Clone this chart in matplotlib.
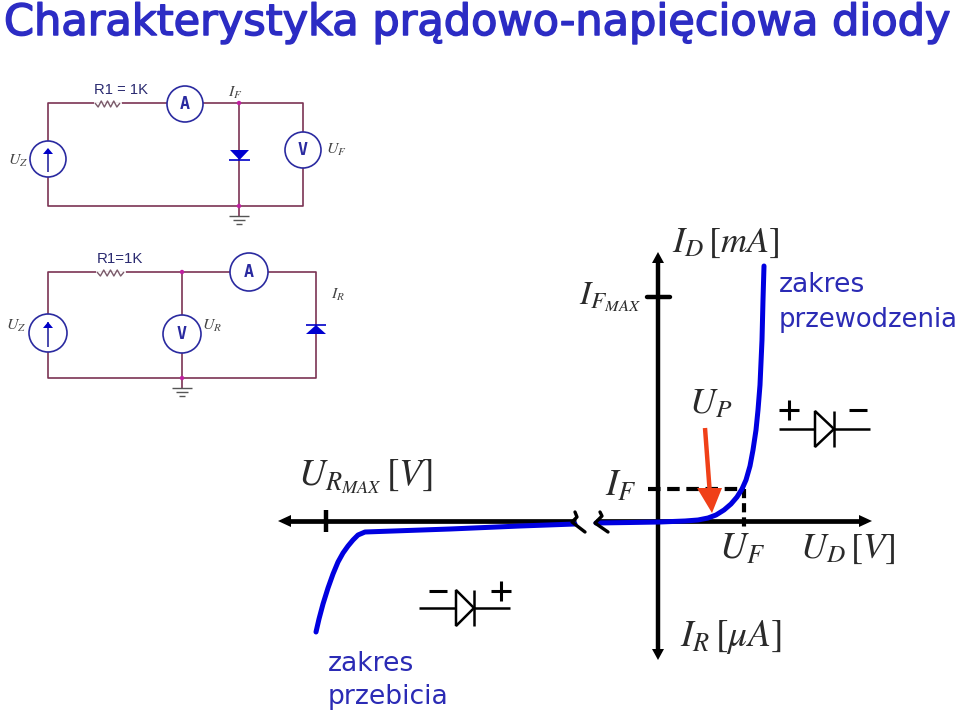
import matplotlib
matplotlib.use("Agg")
import matplotlib.pyplot as plt
import matplotlib.patheffects as pe
from matplotlib.patches import Circle, Polygon

plt.rcParams['mathtext.fontset'] = 'stix'

# curve, in image pixels
forward_x = [596, 630, 660, 685, 698, 708, 716, 724, 731, 737, 742, 746, 750, 753, 756, 758, 760, 762, 763, 764]
forward_y = [523, 522.5, 522, 521, 520, 518, 515, 510, 504, 497, 489, 480, 466, 450, 430, 410, 385, 340, 300, 266]
reverse_x = [316, 319, 323, 328, 333, 338, 343, 348, 353, 358, 365, 450, 520, 575]
reverse_y = [632, 619, 604, 588, 574, 562, 553, 546, 540, 535, 532, 529, 526, 524]
dash_x = [648, 745]
dash_y = [489, 489]

BLUE = '#0000e0'
WIRE = '#7c3454'
RING = '#2a2aa0'
LABEL = '#2b2bb5'
TITLE = '#2c2cc4'
MATH = '#2a2a2a'

fig = plt.figure(figsize=(9.6, 7.15), dpi=100)
ax = fig.add_axes([0, 0, 1, 1])
ax.set_xlim(0, 960)
ax.set_ylim(715, 0)
ax.axis('off')


def line(xs, ys, c='black', lw=1.0, **kw):
    ax.plot(xs, ys, color=c, lw=lw, solid_capstyle=kw.pop('cap', 'butt'), **kw)


def meter(x, y, r, name=None):
    ax.add_patch(Circle((x, y), r, fc='white', ec=RING, lw=1.2, zorder=3))
    if name:
        ax.text(x, y, name, family='DejaVu Sans Mono', weight='bold', fontsize=12,
                color=RING, ha='center', va='center', zorder=4)


def source(x, y, r):
    meter(x, y, r)
    line([x, x], [y + r - 5, y - r + 8], c=RING, lw=1.2, zorder=4)
    ax.add_patch(Polygon([[x - 5, y - 5], [x + 5, y - 5], [x, y - 11]], fc='#0000c8', ec='none', zorder=4))


def resistor(x0, x1, y, n=4):
    step = (x1 - x0) / (2 * n)
    xs = [x0 + i * step for i in range(2 * n + 1)]
    ys = [y] + [y + (4 if i % 2 else -2) for i in range(1, 2 * n)] + [y]
    line(xs, ys, c='#7a5a6a', lw=1.0, zorder=3)


def ground(x, y):
    line([x, x], [y, y + 10], c=WIRE, lw=1.2)
    for w, dy in [(10, 10), (6, 14), (3, 18)]:
        line([x - w, x + w], [y + dy, y + dy], c='#555555', lw=1)


def node(x, y):
    ax.add_patch(Circle((x, y), 2.2, fc='#c020a0', ec='none', zorder=3))


def small_label(x, y, main, sub):
    ax.text(x, y, f'$\\mathit{{{main}}}_{{{sub}}}$', fontsize=11.5, color='#444444', ha='center', va='center')


def big_label(x, y, s, size=27):
    ax.text(x, y, s, fontsize=size, color=MATH, ha='left', va='center')


def diode(x0, x1, y, xb, xt, h, minus_x, plus_x, ys):
    line([x0, x1], [y, y], lw=1.8)
    ax.add_patch(Polygon([[xb, y - h], [xb, y + h], [xt, y]], fc='white', ec='black', lw=1.8, zorder=3))
    line([xt, xt], [y - h, y + h], lw=1.8, zorder=4)
    line([minus_x - 9, minus_x + 9], [ys, ys], lw=2.2)
    line([plus_x - 10, plus_x + 10], [ys, ys], lw=2.2)
    line([plus_x, plus_x], [ys - 10, ys + 10], lw=2.2)


# title
title = ax.text(4, 23, 'Charakterystyka prądowo-napięciowa diody', family='DejaVu Sans', fontsize=31,
                color=TITLE, ha='left', va='center')
title.set_path_effects([pe.withStroke(linewidth=1.1, foreground=TITLE)])

# first circuit
line([48, 48, 303, 303, 48, 48], [159, 103, 103, 206, 206, 159], c=WIRE, lw=1.2)
line([239, 239], [103, 206], c=WIRE, lw=1.2)
ax.plot([95, 120], [103, 103], color='white', lw=2, zorder=2)
resistor(95, 120, 103)
meter(185, 104, 18, 'A')
meter(303, 150, 18, 'V')
source(48, 159, 18)
node(239, 103)
node(239, 206)
ground(239, 206)
ax.add_patch(Polygon([[230, 150], [249, 150], [239.5, 160]], fc='#0000d0', ec='none', zorder=3))
line([229, 250], [160, 160], c='#0000c8', lw=1.2, zorder=3)
ax.text(120.5, 90, 'R1 = 1K', family='Liberation Sans', fontsize=10.6, color='#2a2a70', ha='center', va='center')
small_label(235, 93, 'I', 'F')
small_label(18, 161, 'U', 'Z')
small_label(336, 150, 'U', 'F')

# second circuit
line([48, 48, 316, 316, 48, 48], [333, 272, 272, 378, 378, 333], c=WIRE, lw=1.2)
line([182, 182], [272, 378], c=WIRE, lw=1.2)
ax.plot([97, 124], [272, 272], color='white', lw=2, zorder=2)
resistor(97, 124, 272)
meter(249, 272, 19, 'A')
meter(182, 334, 19, 'V')
source(48, 333, 19)
node(182, 272)
node(182, 378)
ground(182, 378)
ax.add_patch(Polygon([[306, 334], [326, 334], [316, 325]], fc='#0000d0', ec='none', zorder=3))
line([306, 326], [325, 325], c='#0000c8', lw=1.2, zorder=3)
ax.text(120, 259, 'R1=1K', family='Liberation Sans', fontsize=10.8, color='#2a2a70', ha='center', va='center')
small_label(338, 295, 'I', 'R')
small_label(16, 326, 'U', 'Z')
small_label(212, 326, 'U', 'R')

# axes of the characteristic
line([285, 576], [521, 521], lw=3.4)
line([596, 865], [521, 521], lw=3.4)
line([658, 658], [262, 650], lw=3.2)
ax.add_patch(Polygon([[278, 521], [291, 515], [291, 527]], fc='black', ec='none'))
ax.add_patch(Polygon([[872, 521], [859, 515], [859, 527]], fc='black', ec='none'))
ax.add_patch(Polygon([[658, 252], [652, 263], [664, 263]], fc='black', ec='none'))
ax.add_patch(Polygon([[658, 660], [652, 649], [664, 649]], fc='black', ec='none'))
line([326, 326], [510, 532], lw=3.2)
line([647, 670], [297, 297], lw=3.2, cap='round')
line([744, 744], [489, 527], lw=3, ls=(0, (2.2, 1.2)))

# axis break marks
ax.plot([575, 577, 572, 585], [512, 517, 522, 532], color='black', lw=2.4, solid_capstyle='round', zorder=5)
ax.plot([600, 602, 595, 608], [512, 516, 523, 532], color='black', lw=2.4, solid_capstyle='round', zorder=5)

# curve
line(forward_x, forward_y, c=BLUE, lw=3.6, cap='round', zorder=4)
line(reverse_x, reverse_y, c=BLUE, lw=3.6, cap='round', zorder=4)
line(dash_x, dash_y, lw=3, ls=(0, (3, 1.6)), zorder=3)

# red arrow
line([705, 710], [428, 495], c='#f04018', lw=3.2, zorder=6)
ax.add_patch(Polygon([[697, 488], [722, 488], [712, 513]], fc='#f04018', ec='none', zorder=6))

diode(779, 870, 429, 815, 834, 18, 858, 789, 410)
diode(419, 510, 608, 456, 474, 18, 438, 501, 591)

# graph labels
big_label(672, 243, r'$I_D\,[mA]$', 26)
big_label(579, 297, r'$I_{F_{MAX}}$', 24)
big_label(689, 403, r'$U_P$', 26)
big_label(605, 486, r'$I_F$')
big_label(719, 549, r'$U_F$')
big_label(800, 549, r'$U_D\,[V]$', 26)
big_label(680, 637, r'$I_R\,[\mu A]$')
big_label(298, 477, r'$U_{R_{MAX}}\,[V]$')

for x, y, s, size in [(779, 285, 'zakres', 19.2), (779, 320, 'przewodzenia', 18.6),
                      (328, 664, 'zakres', 19.2), (328, 697, 'przebicia', 19.2)]:
    ax.text(x, y, s, family='DejaVu Sans', fontsize=size, color=LABEL, ha='left', va='center')

fig.savefig('out.png', dpi=100)
